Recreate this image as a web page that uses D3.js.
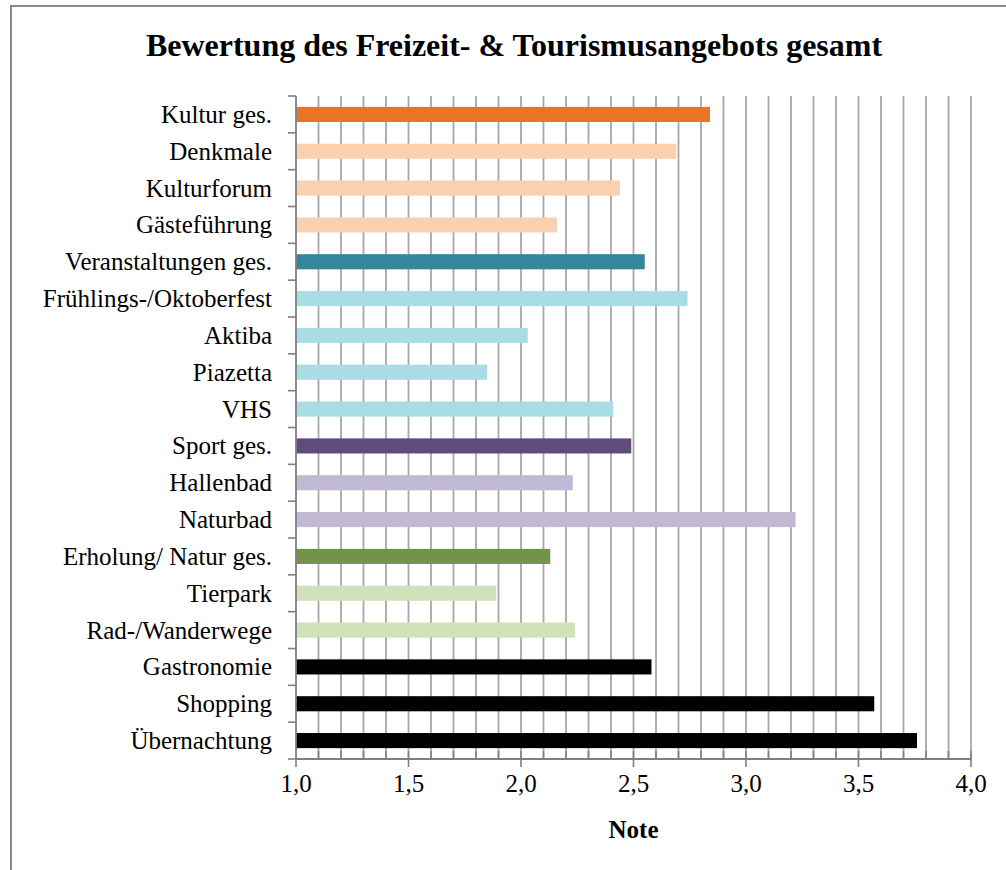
<!DOCTYPE html>
<html>
<head>
<meta charset="utf-8">
<script src="https://cdn.jsdelivr.net/npm/d3@7"></script>
<style>
  html, body { margin: 0; padding: 0; background: #fff; }
  svg { display: block; }
  text { font-family: "Liberation Serif", "Times New Roman", serif; fill: #000; }
</style>
</head>
<body>
<svg id="chart" width="1006" height="870"></svg>
<script>
const title = "Bewertung des Freizeit- & Tourismusangebots gesamt";
const xTitle = "Note";
const categories = ["Kultur ges.", "Denkmale", "Kulturforum", "Gästeführung", "Veranstaltungen ges.",
  "Frühlings-/Oktoberfest", "Aktiba", "Piazetta", "VHS", "Sport ges.", "Hallenbad", "Naturbad",
  "Erholung/ Natur ges.", "Tierpark", "Rad-/Wanderwege", "Gastronomie", "Shopping", "Übernachtung"];
const values = [2.84, 2.69, 2.44, 2.16, 2.55, 2.74, 2.03, 1.85, 2.41, 2.49, 2.23, 3.22, 2.13, 1.89, 2.24, 2.58, 3.57, 3.76];
const colors = ["#E87425", "#FAD0AF", "#FAD0AF", "#FAD0AF", "#33869C", "#AADCE5", "#AADCE5", "#AADCE5", "#AADCE5",
  "#604B7D", "#C1B8D3", "#C1B8D3", "#73934A", "#CFE2B9", "#CFE2B9", "#000000", "#000000", "#000000"];
const tickValues = [1.0, 1.5, 2.0, 2.5, 3.0, 3.5, 4.0];
const xDomain = [1.0, 4.0];

(function () {
const svg = d3.select("#chart");
const pLeft = 296, pRight = 971, pTop = 96, pBottom = 759;

// frame
svg.append("rect").attr("x", 11).attr("y", 6).attr("width", 1100).attr("height", 1000)
  .attr("fill", "none").attr("stroke", "#878787").attr("stroke-width", 2);

const x = d3.scaleLinear().domain(xDomain).range([pLeft, pRight]);
const y = d3.scaleBand().domain(categories).range([pTop, pBottom]).paddingInner(0.59).paddingOuter(0.295);

// gridlines every 0.1
const minor = d3.range(11, 41).map(d => d / 10);
svg.append("g").selectAll("line").data(minor).join("line")
  .attr("x1", d => x(d)).attr("x2", d => x(d))
  .attr("y1", pTop).attr("y2", pBottom)
  .attr("stroke", "#a6a8a8").attr("stroke-width", 1.8);

// bars
svg.append("g").selectAll("rect").data(categories).join("rect")
  .attr("x", x(1))
  .attr("y", d => y(d))
  .attr("width", (d, i) => x(values[i]) - x(1))
  .attr("height", y.bandwidth())
  .attr("fill", (d, i) => colors[i]);

// y axis
const axisColor = "#7f7f7f";
svg.append("line").attr("x1", pLeft).attr("x2", pLeft).attr("y1", pTop).attr("y2", pBottom)
  .attr("stroke", axisColor).attr("stroke-width", 1.8);
const step = y.step();
svg.append("g").selectAll("line").data(d3.range(categories.length + 1)).join("line")
  .attr("x1", pLeft - 8).attr("x2", pLeft)
  .attr("y1", i => pTop + i * step).attr("y2", i => pTop + i * step)
  .attr("stroke", axisColor).attr("stroke-width", 1.6);
svg.append("g").selectAll("text").data(categories).join("text")
  .attr("x", 272).attr("y", d => y(d) + y.bandwidth() / 2)
  .attr("dy", "0.34em")
  .attr("text-anchor", "end")
  .attr("font-size", 25)
  .text(d => d);

// x axis
svg.append("line").attr("x1", pLeft).attr("x2", pRight).attr("y1", pBottom).attr("y2", pBottom)
  .attr("stroke", axisColor).attr("stroke-width", 1.8);
svg.append("g").selectAll("line").data(minor).join("line")
  .attr("x1", d => x(d)).attr("x2", d => x(d))
  .attr("y1", pBottom - 8).attr("y2", pBottom)
  .attr("stroke", axisColor).attr("stroke-width", 1.6);
svg.append("g").selectAll("line").data(tickValues).join("line")
  .attr("x1", d => x(d)).attr("x2", d => x(d))
  .attr("y1", pBottom).attr("y2", pBottom + 8)
  .attr("stroke", axisColor).attr("stroke-width", 1.6);
const fmt = d => d3.format(".1f")(d).replace(".", ",");
svg.append("g").selectAll("text").data(tickValues).join("text")
  .attr("x", d => x(d)).attr("y", 792)
  .attr("text-anchor", "middle")
  .attr("font-size", 25)
  .text(fmt);

svg.append("text").attr("x", x(2.5)).attr("y", 838)
  .attr("text-anchor", "middle").attr("font-size", 25).attr("font-weight", "bold")
  .text(xTitle);

svg.append("text").attr("x", 514).attr("y", 56)
  .attr("text-anchor", "middle").attr("font-size", 32).attr("font-weight", "bold")
  .text(title);
})();
</script>
</body>
</html>
